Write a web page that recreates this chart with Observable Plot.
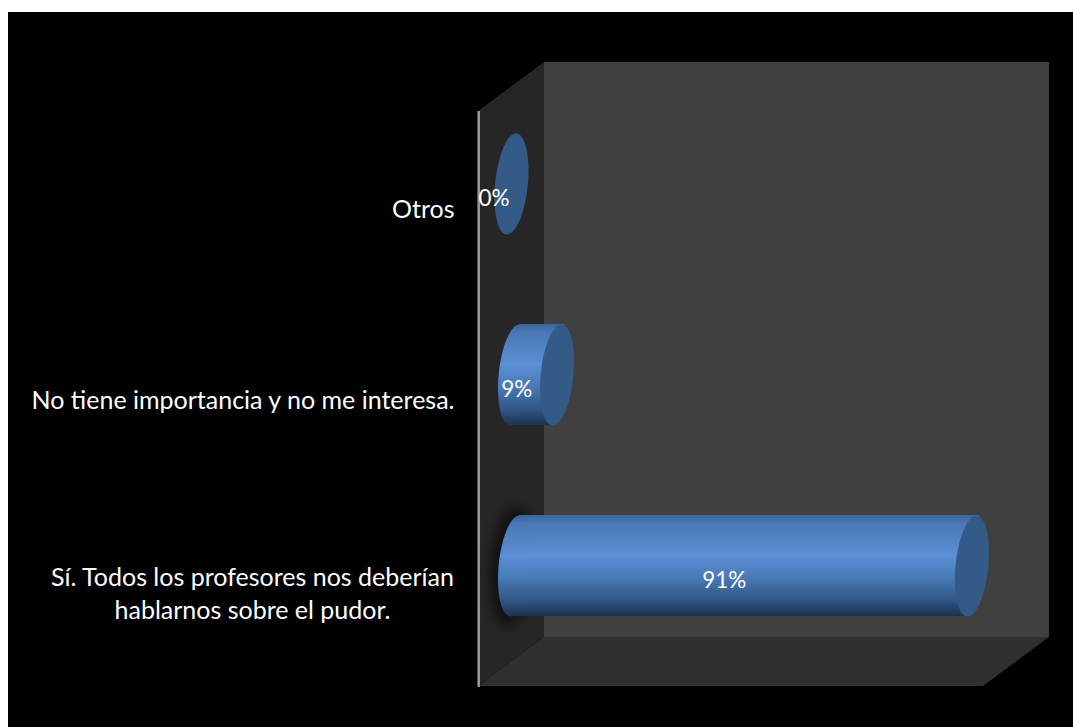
<!DOCTYPE html>
<html><head><meta charset="utf-8">
<script src="https://cdn.jsdelivr.net/npm/d3@7"></script>
<script src="https://cdn.jsdelivr.net/npm/@observablehq/plot@0.6"></script>
<style>html,body{margin:0;padding:0;background:#fff}svg{display:block}</style>
</head><body><div id="c"></div>
<script>
const categories = ["Otros", "No tiene importancia y no me interesa.", "Sí. Todos los profesores nos deberían\nhablarnos sobre el pudor."];
const values = [0, 9, 91];
const rows = categories.map((c, i) => ({c, v: values[i]}));
const FONT = "Lato, Carlito, sans-serif";
const ell = (a, b, s) => ({draw(p) {
  for (let i = 0; i < 72; i++) {
    const t = i / 72 * 2 * Math.PI;
    const X = a * Math.cos(t) - s * Math.sin(t), Y = b * Math.sin(t);
    i ? p.lineTo(X, Y) : p.moveTo(X, Y);
  }
  p.closePath();
}});
const cyl = ell(16.4, 50.5, 4.5);
const walls = (index, {x}, channels, dim) => {
  const g = d3.create("svg:g");
  const poly = (pts, fill) => g.append("polygon").attr("points", pts.join(" ")).attr("fill", fill);
  const L = dim.marginLeft, T = dim.marginTop, R = dim.width - dim.marginRight, B = dim.height - dim.marginBottom;
  g.append("rect").attr("x", 8).attr("y", 12).attr("width", dim.width - 8).attr("height", dim.height - 12).attr("fill", "#000");
  const dx = 66, dy = 49;
  poly([[L - dx, T + dy], [L, T], [L, B], [L - dx, B + dy]], "#262626");
  poly([[L - dx, B + dy], [L, B], [R, B], [R - dx, B + dy]], "#2f2f2f");
  g.append("rect").attr("x", L).attr("y", T).attr("width", R - L).attr("height", B - T).attr("fill", "#404040");
  g.append("line").attr("x1", L - dx + 0.7).attr("x2", L - dx + 0.7).attr("y1", T + dy).attr("y2", B + dy + 1).attr("stroke", "#9b9b9b").attr("stroke-width", 2.5);
  return g.node();
};
// the cylinder's side follows the tilt of its round ends
const skewBody = (index, scales, values, dim, ctx, next) => {
  const g = next(index, scales, values, dim, ctx);
  d3.select(g).selectAll("rect").each(function() {
    const r = d3.select(this), cy = +r.attr("y") + r.attr("height") / 2;
    r.attr("transform", `translate(0,${cy}) skewX(-5.09) translate(0,${-cy})`);
  });
  return g;
};
const plot = Plot.plot({
  width: 1073, height: 727,
  marginLeft: 544, marginRight: 24, marginTop: 62, marginBottom: 90,
  style: {background: "transparent", fontFamily: FONT},
  x: {domain: [0, 100], range: [511, 1017], axis: null},
  y: {domain: categories, range: [42, 707.5], padding: 0.473, axis: null},
  marks: [
    walls,
    Plot.dot(rows.filter(d => d.v > 50), {x: () => 0, y: "c", dx: 0, symbol: ell(21, 60, 4.5), r: 3, fill: "#111", imageFilter: "blur(6px)"}),
    Plot.barX(rows.filter(d => d.v > 0), {x1: () => 0, x2: "v", y: "c", dx: 3.5, fill: "url(#cyl)", render: skewBody}),
    Plot.dot(rows.filter(d => d.v > 0), {x: () => 0, y: "c", dx: 3.5, symbol: cyl, r: 3, fill: "url(#cyl)"}),
    Plot.dot(rows, {x: "v", y: "c", symbol: cyl, r: 3, fill: "#345a87"}),
    Plot.text(rows, {x: d => d.v / 2, y: "c", text: d => d.v + "%", dx: -17.5, dy: 15, fill: "#fff", fontSize: 22.5}),
    Plot.text(rows.filter(d => !d.c.includes("\n")), {y: "c", text: "c", frameAnchor: "left", dx: -90, textAnchor: "end", dy: 26, fill: "#fff", fontSize: 25}),
    Plot.text(rows.filter(d => d.c.includes("\n")), {y: "c", text: "c", frameAnchor: "left", dx: -292, textAnchor: "middle", dy: 25.5, lineHeight: 1.32, fill: "#fff", fontSize: 25})
  ]
});
d3.select(plot).insert("defs", ":first-child").html(`<linearGradient id="cyl" x1="0" y1="0" x2="0" y2="1">
<stop offset="0" stop-color="#3a659c"/><stop offset="0.08" stop-color="#4a78b5"/><stop offset="0.4" stop-color="#5b8fd6"/>
<stop offset="0.6" stop-color="#4b7cba"/><stop offset="0.85" stop-color="#2f5583"/><stop offset="1" stop-color="#1c3250"/></linearGradient>`);
document.getElementById("c").append(plot);
</script></body></html>
